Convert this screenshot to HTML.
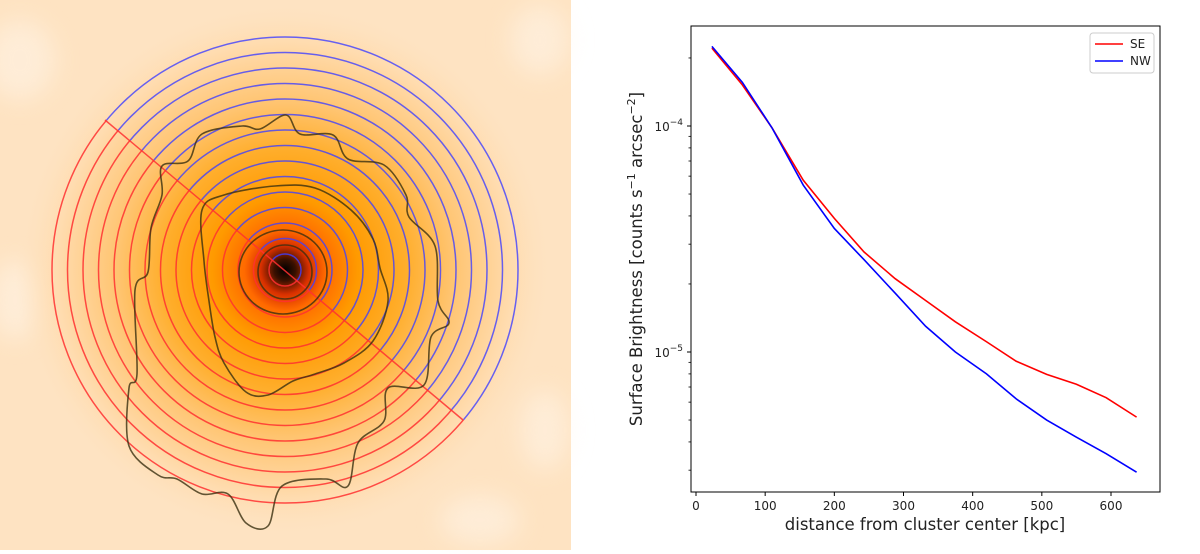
<!DOCTYPE html>
<html><head><meta charset="utf-8"><style>
html,body{margin:0;padding:0;background:#fff;width:1200px;height:554px;overflow:hidden;font-family:"DejaVu Sans","Liberation Sans",sans-serif}
svg{position:absolute;left:0;top:0}
</style></head><body>
<svg width="1200" height="554">
<defs>
<radialGradient id="glow" cx="285" cy="270" r="270" gradientUnits="userSpaceOnUse">
<stop offset="0" stop-color="#000"/>
<stop offset="0.04" stop-color="#3a1000"/>
<stop offset="0.09" stop-color="#d83000"/>
<stop offset="0.15" stop-color="#ff6a00"/>
<stop offset="0.27" stop-color="#ff9a00"/>
<stop offset="0.45" stop-color="#ffae2c"/>
<stop offset="0.62" stop-color="#ffc470"/>
<stop offset="0.82" stop-color="#ffd9a8"/>
<stop offset="1" stop-color="#ffe4c4" stop-opacity="0"/>
</radialGradient>
<filter id="blur"><feGaussianBlur stdDeviation="12"/></filter>
<clipPath id="redclip"><polygon points="285,270 -200,-137 -200,800 800,800 766,673"/></clipPath>
<clipPath id="blueclip"><polygon points="285,270 -200,-137 800,-200 800,800 766,673"/></clipPath>
</defs>
<g>
<rect x="0" y="0" width="571" height="550" fill="#fee3c2"/>
<g filter="url(#blur)" opacity="0.5" fill="#fff6ec">
<ellipse cx="20" cy="60" rx="35" ry="40"/>
<ellipse cx="540" cy="40" rx="30" ry="35"/>
<ellipse cx="545" cy="430" rx="25" ry="40"/>
<ellipse cx="480" cy="520" rx="40" ry="25"/>
<ellipse cx="15" cy="300" rx="25" ry="40"/>
</g>
<rect x="0" y="0" width="571" height="550" fill="url(#glow)"/>
<g id="rings-red" clip-path="url(#redclip)" fill="none" stroke="#ff3030" stroke-opacity="0.85" stroke-width="1.5"></g>
<g id="rings-blue" clip-path="url(#blueclip)" fill="none" stroke="#4040ff" stroke-opacity="0.8" stroke-width="1.5"></g>
<line x1="105" y1="120" x2="463" y2="420" stroke="#ff3030" stroke-opacity="0.85" stroke-width="1.5"/>
<g id="contours" fill="none" stroke="#3a3010" stroke-opacity="0.8" stroke-width="1.6">
<ellipse cx="283" cy="272" rx="44" ry="42"/>
<ellipse cx="285" cy="272" rx="27" ry="27"/>
</g>
</g>
<g id="chart"></g>
</svg>
<script>
const NS="http://www.w3.org/2000/svg";
const ringRadii=[16,31.5,47,62.5,78,93.5,109,124.5,140,155.5,171,186.5,202,217.5,233];
for(const id of ["rings-red","rings-blue"]){const g=document.getElementById(id);
ringRadii.forEach(r=>{const c=document.createElementNS(NS,"circle");c.setAttribute("cx",285);c.setAttribute("cy",270);c.setAttribute("r",r);


g.appendChild(c);});}

const outerContour=[[162,166],[188,161],[202,134],[242,126],[260,129],[286,115],[300,134],[333,135],[348,159],[384,165],[406,195],[409,217],[435,246],[438,301],[449,323],[431,337],[424,385],[388,388],[384,421],[358,443],[348,486],[326,479],[282,486],[268,526],[246,523],[228,494],[202,494],[177,479],[158,475],[129,446],[129,388],[137,374],[135,290],[148,272],[151,228],[162,195]];
const middleContour=[[202,210],[224,195],[275,186],[315,188],[351,210],[373,239],[380,268],[388,301],[373,341],[344,363],[315,374],[293,381],[268,395],[246,392],[224,363],[215,337],[209,301],[204,261]];
function smooth(p){const n=p.length;let d="M"+p[0][0]+","+p[0][1];
for(let i=0;i<n;i++){const p0=p[(i-1+n)%n],p1=p[i],p2=p[(i+1)%n],p3=p[(i+2)%n];
d+=" C"+(p1[0]+(p2[0]-p0[0])/6)+","+(p1[1]+(p2[1]-p0[1])/6)+" "+(p2[0]-(p3[0]-p1[0])/6)+","+(p2[1]-(p3[1]-p1[1])/6)+" "+p2[0]+","+p2[1];}
return d+"Z";}
const cg=document.getElementById("contours");
[[outerContour,"contour-outer"],[middleContour,"contour-middle"]].forEach(([pts,nm])=>{
const p=document.createElementNS(NS,"path");p.setAttribute("d",smooth(pts));


cg.appendChild(p);});

const distances=[23,67,110,155,200,243,288,332,375,420,463,507,550,593,637];
const seValues=[2.21e-4,1.52e-4,9.8e-5,5.76e-5,3.9e-5,2.77e-5,2.11e-5,1.69e-5,1.36e-5,1.11e-5,9.1e-6,7.96e-6,7.2e-6,6.28e-6,5.15e-6];
const nwValues=[2.25e-4,1.56e-4,9.8e-5,5.48e-5,3.52e-5,2.56e-5,1.82e-5,1.30e-5,1.0e-5,8.0e-6,6.2e-6,5.0e-6,4.2e-6,3.55e-6,2.94e-6];
const xTicks=[0,100,200,300,400,500,600];
const yMajor=[1e-4,1e-5];
const yMinor=[3e-6,4e-6,5e-6,6e-6,7e-6,8e-6,9e-6,2e-5,3e-5,4e-5,5e-5,6e-5,7e-5,8e-5,9e-5,2e-4];

const L=691,R=1160,T=26,B=492;
const xs=v=>696+v*(1111-696)/600;
const ys=v=>126+(-4-Math.log10(v))*226;
const ch=document.getElementById("chart");
function el(tag,attrs,text){const e=document.createElementNS(NS,tag);for(const k in attrs)e.setAttribute(k,attrs[k]);if(text!==undefined)e.textContent=text;ch.appendChild(e);return e;}

xTicks.forEach(t=>{const x=xs(t);
const l=el("line",{x1:x,x2:x,y1:B,y2:B+4,stroke:"#000","stroke-width":1});


const tx=el("text",{x:x,y:B+18,"font-size":12,"text-anchor":"middle",fill:"#222"},String(t));

});
yMinor.forEach(v=>{const y=ys(v);if(y<T||y>B)return;
const l=el("line",{x1:L-2.5,x2:L,y1:y,y2:y,stroke:"#000","stroke-width":0.8});

});
yMajor.forEach(v=>{const y=ys(v);
const l=el("line",{x1:L-4,x2:L,y1:y,y2:y,stroke:"#000","stroke-width":1});


const e=Math.round(Math.log10(v));
const t=el("text",{x:L-8,y:y+5,"font-size":12,"text-anchor":"end",fill:"#222"});


t.innerHTML='10<tspan dy="-6" font-size="9">\u2212'+Math.abs(e)+'</tspan>';});

function line(vals,color,name){
const p=el("polyline",{points:distances.map((d,i)=>xs(d)+","+ys(vals[i])).join(" "),fill:"none",stroke:color,"stroke-width":1.6});

}
line(seValues,"#ff0000","se-line");
line(nwValues,"#0000ff","nw-line");

const fr=el("rect",{x:L,y:T,width:R-L,height:B-T,fill:"none",stroke:"#000","stroke-width":1});



const lg=el("rect",{x:1090,y:33,width:64,height:40,rx:3,fill:"#fff",stroke:"#ccc","stroke-width":1});


[["SE","#ff0000",44],["NW","#0000ff",61]].forEach(([n,c,y])=>{
const a=el("line",{x1:1095,x2:1123,y1:y,y2:y,stroke:c,"stroke-width":1.6});


const b=el("text",{x:1130,y:y+4,"font-size":12,fill:"#222"},n);

});

const xl=el("text",{x:925,y:530,"font-size":16.5,"text-anchor":"middle",fill:"#222"},"distance from cluster center [kpc]");


const yl=el("text",{x:0,y:0,"font-size":16.5,"text-anchor":"middle",fill:"#222",transform:"translate(642,259) rotate(-90)"});


yl.innerHTML='Surface Brightness [counts s<tspan dy="-7" font-size="11">\u22121</tspan><tspan dy="7"> arcsec</tspan><tspan dy="-7" font-size="11">\u22122</tspan><tspan dy="7">]</tspan>';
</script>
</body></html>
